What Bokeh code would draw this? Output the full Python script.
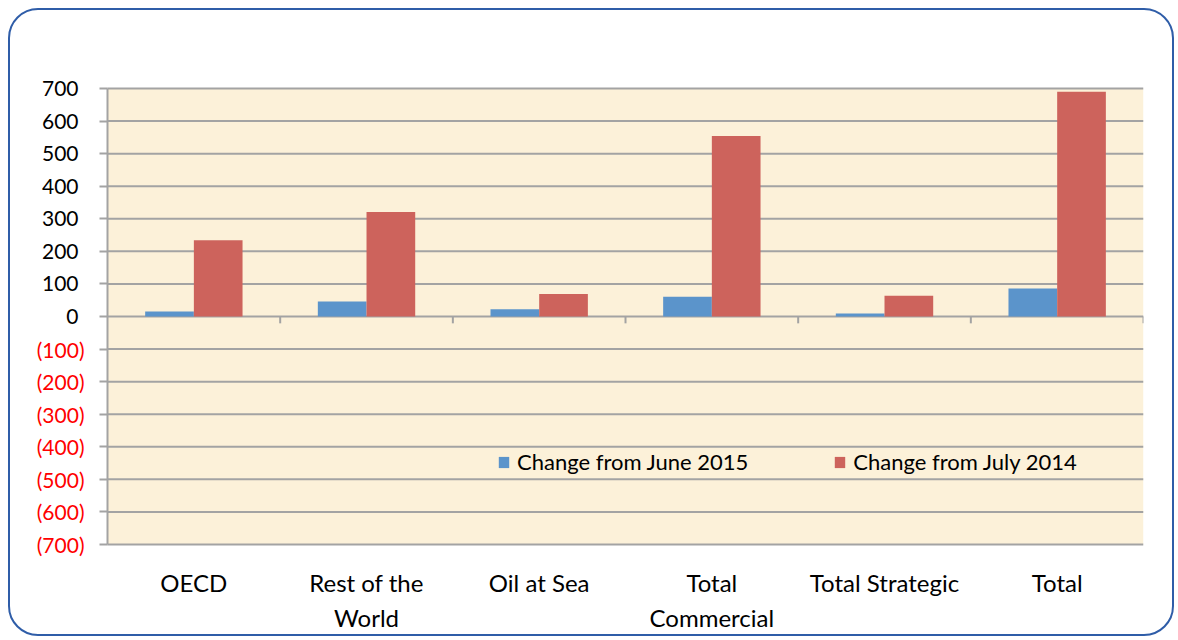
from bokeh.plotting import figure
from bokeh.models import (ColumnDataSource, Range1d, FixedTicker, LinearAxis, BoxAnnotation,
                          Legend, LegendItem, CustomJSTickFormatter)
from bokeh.transform import dodge
from bokeh.embed import file_html
from bokeh.resources import INLINE

# ---- data ----
categories = ["OECD", "Rest of the World", "Oil at Sea", "Total Commercial", "Total Strategic", "Total"]
category_labels = ["OECD", "Rest of the\nWorld", "Oil at Sea", "Total\nCommercial", "Total Strategic", "Total"]
change_june_2015 = [15, 46, 22, 61, 9, 86]
change_july_2014 = [234, 321, 69, 554, 64, 690]
series_names = ["Change from June 2015", "Change from July 2014"]
positive_ticks = [0, 100, 200, 300, 400, 500, 600, 700]
negative_ticks = [-100, -200, -300, -400, -500, -600, -700]
negative_labels = ["(100)", "(200)", "(300)", "(400)", "(500)", "(600)", "(700)"]

FONT = "Lato"
BLUE = "#5B94CB"
RED = "#CD635C"
GRID = "#A3A3A3"
BEIGE = "#FCF1D9"

n = len(categories)
centers = [i + 0.5 for i in range(n)]          # category slots on the x scale
bounds = list(range(1, n + 1))                  # slot boundaries
all_ticks = positive_ticks + negative_ticks
y_min, y_max = min(all_ticks), max(all_ticks)

src = ColumnDataSource(dict(pos=centers, cat=categories,
                            june=change_june_2015, july=change_july_2014))

p = figure(x_range=Range1d(-0.533, n), y_range=Range1d(-740, 740),
           width=1166, height=628, output_backend="svg", toolbar_location=None,
           min_border_left=5, min_border_right=33, min_border_top=65, min_border_bottom=81)
p.styles = {"border": "2px solid #2F5DA8", "border-radius": "30px",
            "margin-left": "8px", "margin-top": "8px"}
p.border_fill_color = None
p.background_fill_color = None
p.outline_line_color = None
p.xgrid.visible = False
p.ygrid.visible = False

# plot area background
p.add_layout(BoxAnnotation(left=0, right=n, bottom=y_min, top=y_max,
                           fill_color=BEIGE, fill_alpha=1, line_color=None, level="underlay"))

# horizontal gridlines across the plot area
p.segment(x0=[0] * len(all_ticks), x1=[n] * len(all_ticks), y0=all_ticks, y1=all_ticks,
          line_color=GRID, line_width=2)
# category boundary tick marks on the zero line
p.segment(x0=bounds, x1=bounds, y0=[0] * n, y1=[-21] * n, line_color=GRID, line_width=2)

r1 = p.vbar(x=dodge("pos", -0.141), top="june", width=0.282, source=src,
            fill_color=BLUE, line_color=None)
r2 = p.vbar(x=dodge("pos", 0.141), top="july", width=0.282, source=src,
            fill_color=RED, line_color=None)

# y axis (positive labels in black) at the left edge of the plot area
yax = p.yaxis[0]
yax.fixed_location = 0
yax.bounds = (y_min, y_max)
yax.ticker = FixedTicker(ticks=all_ticks)
yax.formatter = CustomJSTickFormatter(code="return tick < 0 ? '' : tick.toString();")
yax.axis_line_color = GRID
yax.axis_line_width = 2
yax.major_tick_line_color = GRID
yax.major_tick_line_width = 2
yax.major_tick_out = 8
yax.major_tick_in = 0
yax.minor_tick_line_color = None
yax.major_label_standoff = 21
yax.major_label_text_font = FONT
yax.major_label_text_font_size = "21px"
yax.major_label_text_color = "#000000"

# negative labels in red, same place
neg_axis = LinearAxis(
    ticker=FixedTicker(ticks=negative_ticks),
    formatter=CustomJSTickFormatter(args=dict(vals=negative_ticks, labs=negative_labels),
                                    code="const i = vals.indexOf(tick); return i >= 0 ? labs[i] : '';"),
    fixed_location=0, bounds=(y_min, y_max),
    axis_line_color=None, major_tick_line_color=None, minor_tick_line_color=None,
    major_tick_out=0, major_tick_in=0, major_label_standoff=23,
    major_label_text_font=FONT, major_label_text_font_size="21px",
    major_label_text_color="#FF0000")
p.add_layout(neg_axis, "left")

# x axis: category names under the plot area
xax = p.xaxis[0]
xax.ticker = FixedTicker(ticks=centers)
xax.formatter = CustomJSTickFormatter(args=dict(labs=category_labels),
                                      code="return labs[Math.round(tick - 0.5)] || '';")
xax.axis_line_color = None
xax.major_tick_line_color = None
xax.minor_tick_line_color = None
xax.major_label_text_font = FONT
xax.major_label_text_font_size = "24px"
xax.major_label_text_color = "#000000"
xax.major_label_text_line_height = 1.22
xax.major_label_standoff = 4

legend = Legend(items=[LegendItem(label=series_names[0], renderers=[r1]),
                       LegendItem(label=series_names[1], renderers=[r2])],
                orientation="horizontal", location=(390 + 92, 82),
                background_fill_alpha=0, border_line_color=None,
                padding=0, margin=0, spacing=85, label_standoff=7,
                glyph_width=13, glyph_height=14,
                label_text_font=FONT, label_text_font_size="22px", label_text_color="#000000")
p.add_layout(legend, "center")

open("out.html", "w").write(file_html(p, INLINE))
